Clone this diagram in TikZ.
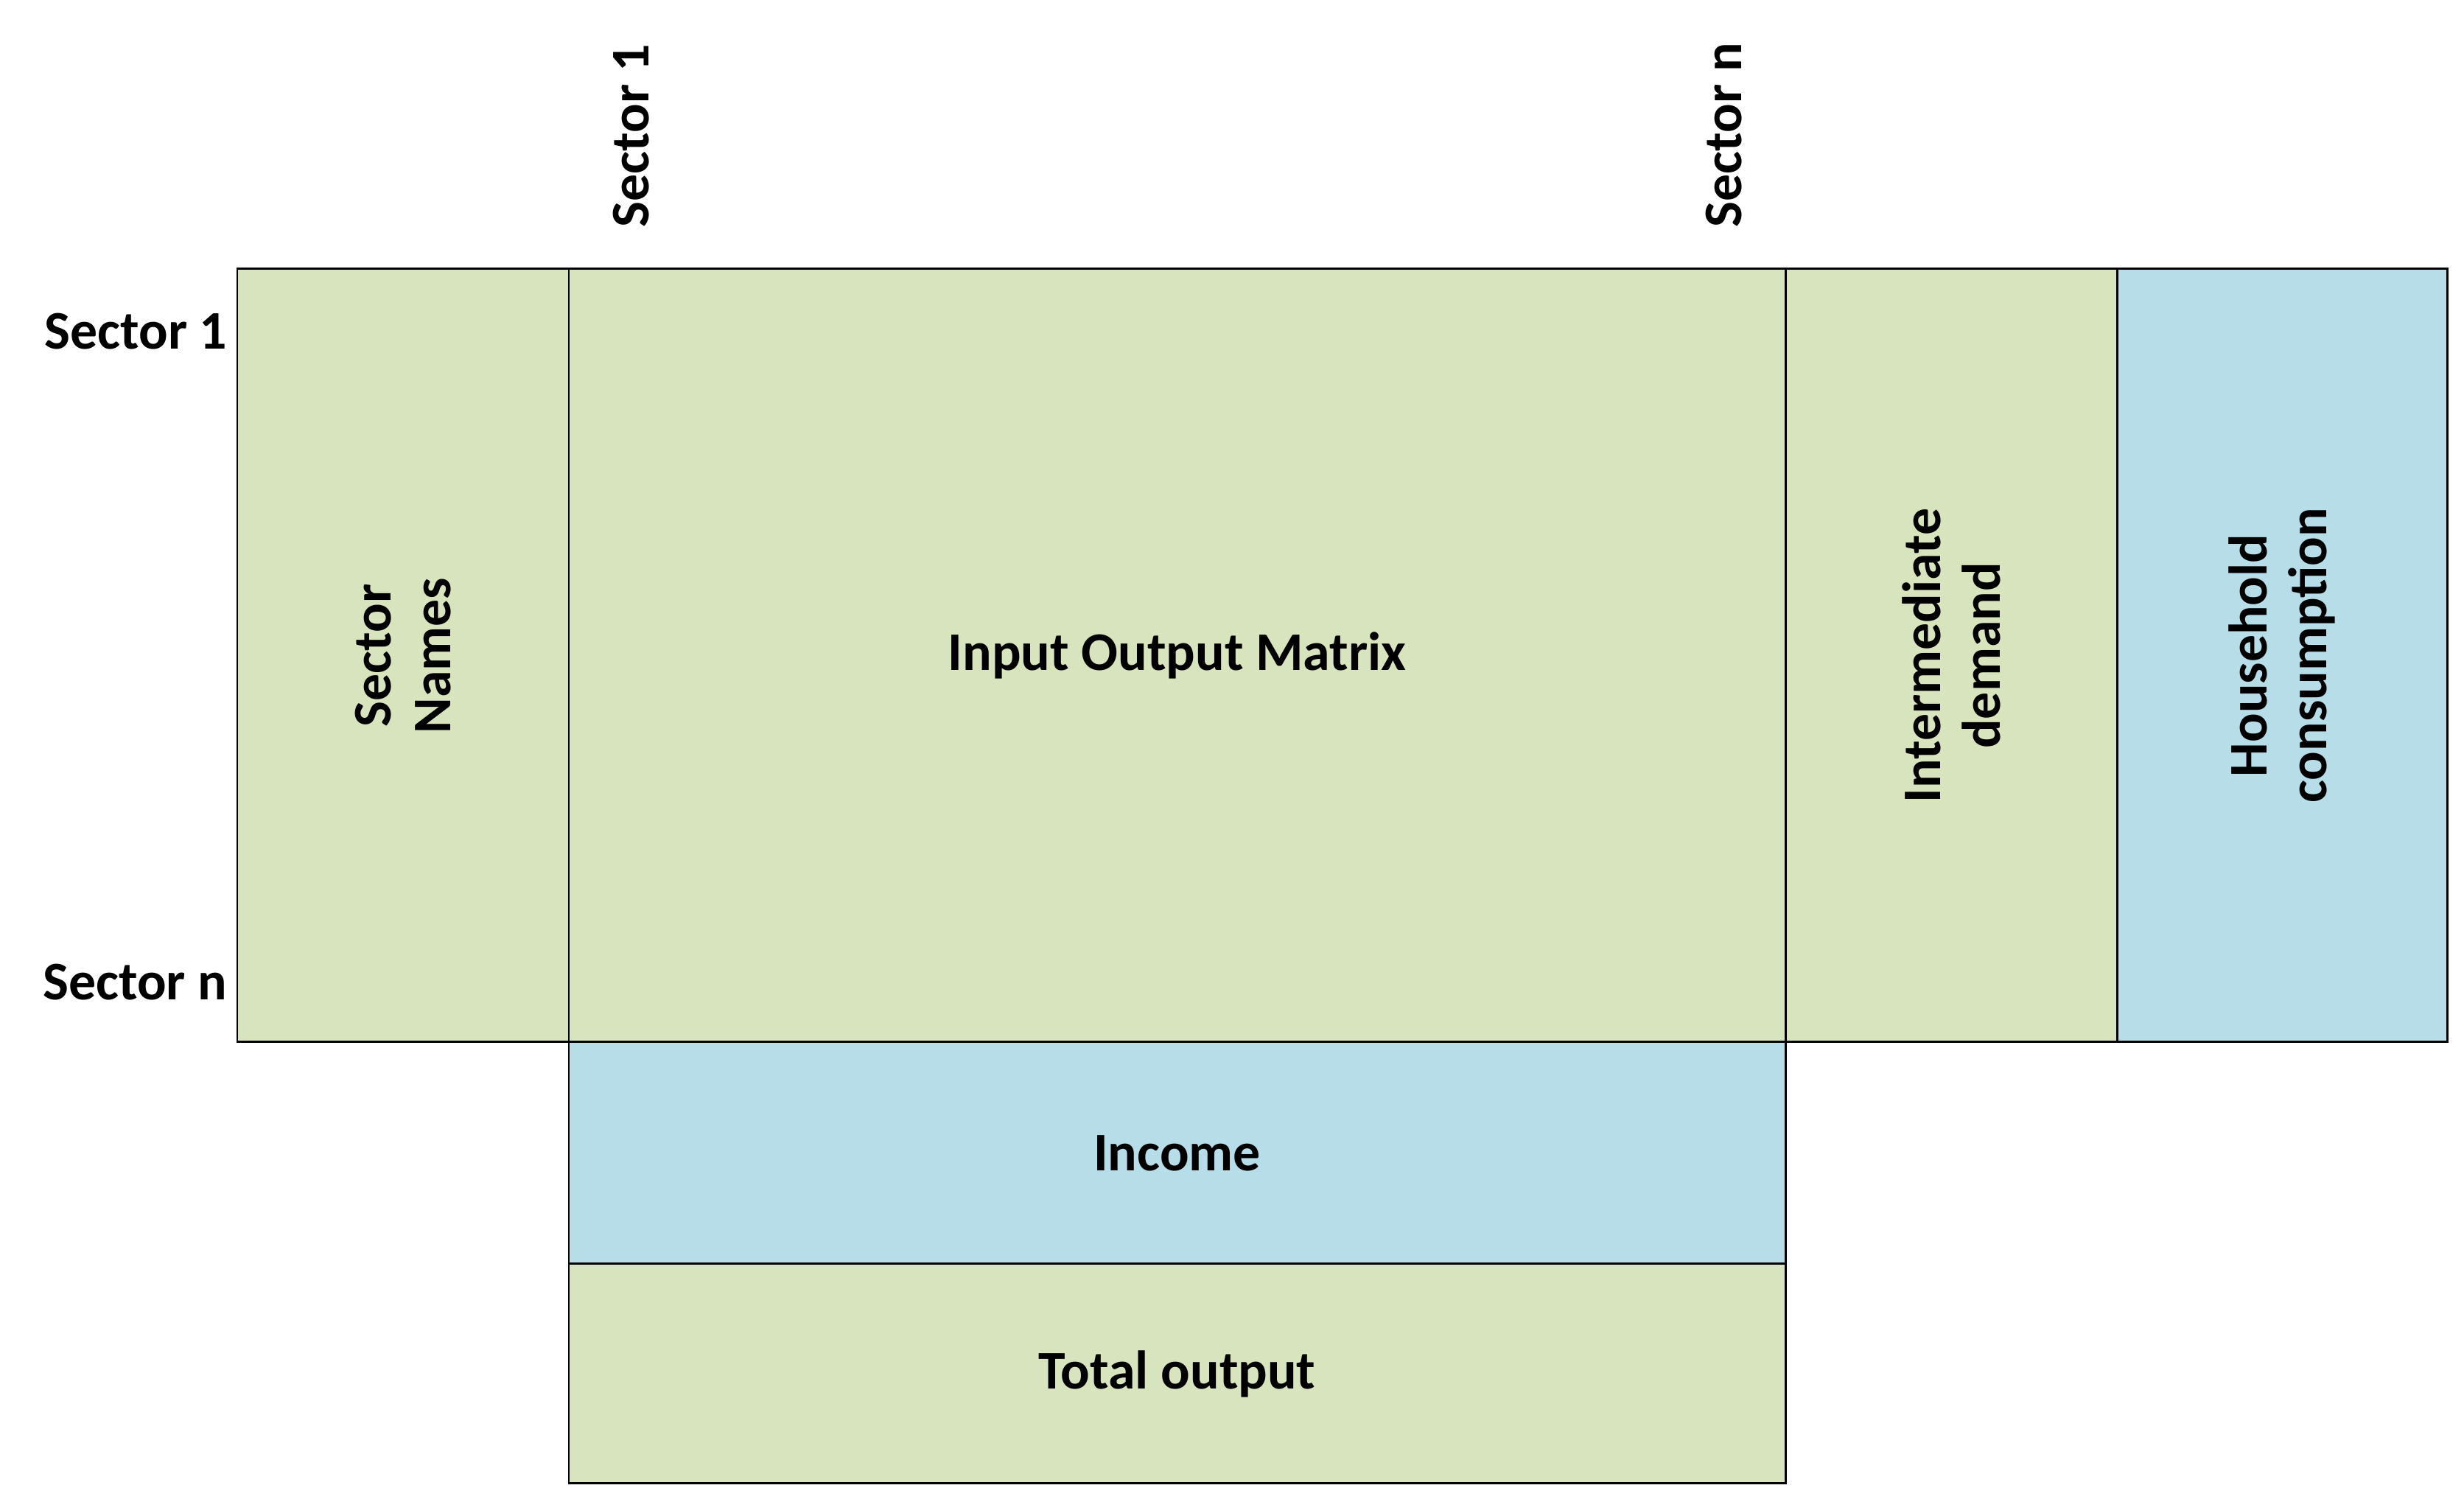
\documentclass[tikz,border=0pt]{standalone}
\usepackage{fontspec, tikz, xcolor}
\setmainfont{Carlito}
\usetikzlibrary{positioning}
\definecolor{cellgreen}{HTML}{D8E4BD}
\definecolor{cellblue}{HTML}{B7DDE8}

\begin{document}
\begin{tikzpicture}[
    cell/.style = {draw = black, line width = 0.85pt, inner sep = 0pt, outer sep = 0pt, align = center,
                   font = \fontsize{21}{23}\selectfont\bfseries},
    greencell/.style = {cell, fill = cellgreen},
    bluecell/.style = {cell, fill = cellblue},
    label/.style = {inner sep = 0pt, font = \fontsize{21}{23}\selectfont\bfseries},
    node distance = 0pt
  ]
    \useasboundingbox (0,0) rectangle (33.44,20.38);
    \node [greencell, anchor = north west, minimum width = 4.5cm, minimum height = 10.49cm] (names) at (3.22,16.73) {};
    \node [greencell, right = of names, minimum width = 16.51cm, minimum height = 10.49cm] (iomat) {Input Output Matrix};
    \node [greencell, right = of iomat, minimum width = 4.5cm, minimum height = 10.49cm] (interm) {};
    \node [bluecell, right = of interm, minimum width = 4.48cm, minimum height = 10.49cm] (house) {};
    \node [bluecell, below = of iomat, minimum width = 16.51cm, minimum height = 3.01cm] (income) {Income};
    \node [greencell, below = of income, minimum width = 16.51cm, minimum height = 2.98cm] (total) {Total output};
    \node [label, rotate = 90, align = center] at (names.center) {Sector\\Names};
    \node [label, rotate = 90, align = center] at (interm.center) {Intermediate\\demand};
    \node [label, rotate = 90, align = center] at (house.center) {Household\\consumption};
    \node [label, anchor = east] (row1) at (3.09,15.88) {Sector 1};
    \node [label, anchor = east] (rown) at (3.09,7.05) {Sector n};
    \node [label, rotate = 90, anchor = west] (col1) at (8.57,17.29) {Sector 1};
    \node [label, rotate = 90, anchor = west] (coln) at (23.40,17.29) {Sector n};
\end{tikzpicture}
\end{document}
